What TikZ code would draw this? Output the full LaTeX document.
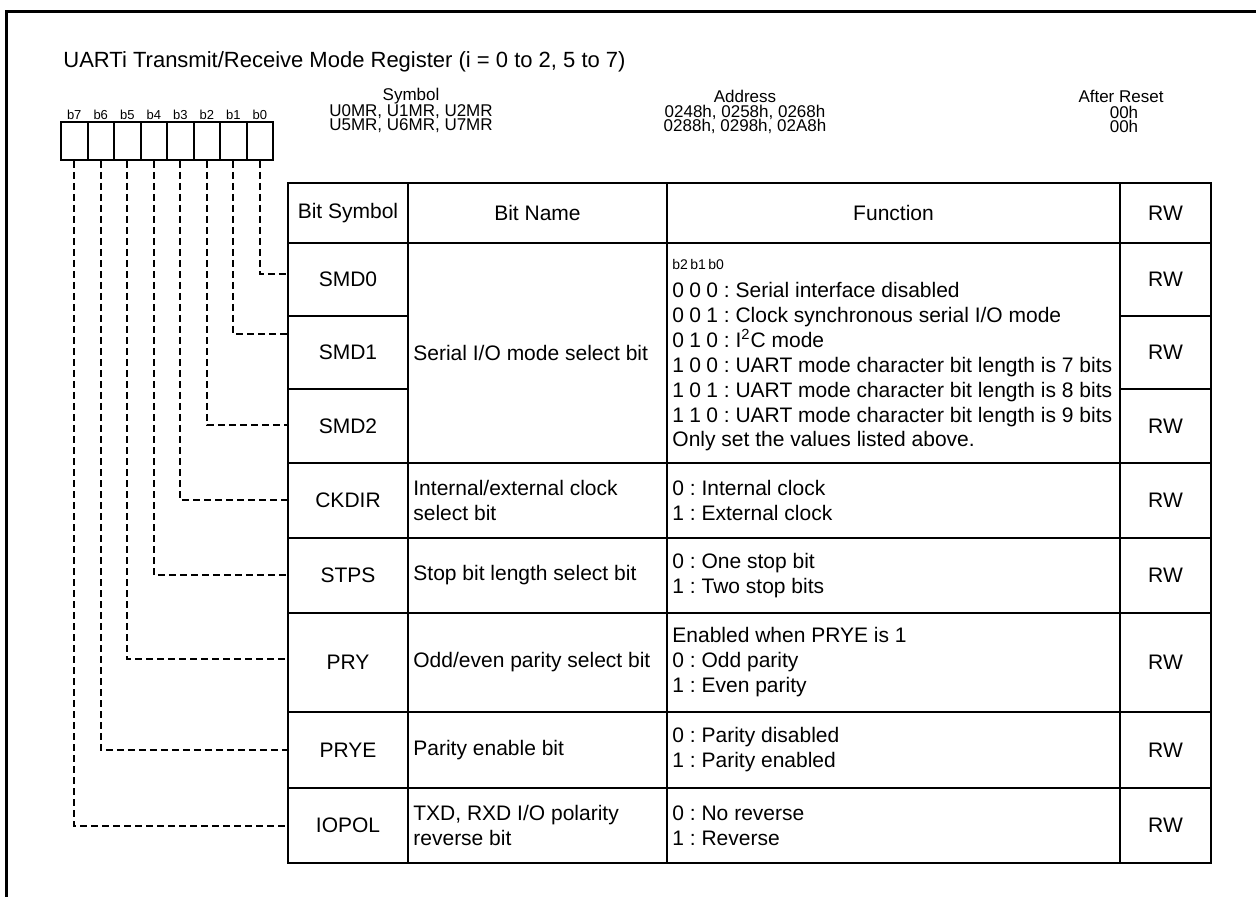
\documentclass[tikz,border=0pt]{standalone}
\usepackage{fontspec}
\setmainfont{Liberation Sans}
\frenchspacing
\begin{document}
\begin{tikzpicture}[x=0.5pt,y=-0.5pt]
\tikzset{
 tbl/.style={line width=1pt},
 conn/.style={line width=1.2pt, dash pattern=on 3.5pt off 2pt},
 txt/.style={inner sep=0pt, font=\fontsize{10.5}{12.5}\selectfont},
 hdr/.style={inner sep=0pt, font=\fontsize{8.5}{9}\selectfont},
 bitbox/.style={draw, line width=1pt, minimum width=13.25pt, minimum height=19pt, inner sep=0pt},
 bitlbl/.style={inner sep=0pt, font=\fontsize{6.5}{7}\selectfont},
 smallb/.style={inner sep=0pt, font=\fontsize{7}{8}\selectfont},
}
\newcommand{\dg}[1]{\makebox[8.5pt][l]{#1}}
\newcommand{\db}[1]{\makebox[9pt][l]{#1}}
\useasboundingbox (0,0) rectangle (1256,897);
% frame
\draw[line width=1.5pt] (6,897) -- (6,12) -- (1256,12);
% title
\node[inner sep=0pt, anchor=base west, font=\fontsize{11}{13}\selectfont] (title) at (63,68) {UARTi Transmit/Receive Mode Register (i = 0 to 2, 5 to 7)};
% bit boxes
\foreach \n [count=\i from 0] in {7,6,5,4,3,2,1,0} {
  \node[bitbox] (bit\n) at ({74.25+26.5*\i},141) {};
  \node[bitlbl] (lbl\n) at ({74.25+26.5*\i},115) {b\n};
}
% header info
\node[hdr] (symh) at (411,96) {Symbol};
\node[hdr] (sym1) at (411,112) {U0MR, U1MR, U2MR};
\node[hdr] (sym2) at (411,126) {U5MR, U6MR, U7MR};
\node[hdr] (addh) at (745,96) {Address};
\node[hdr] (add1) at (745,112) {0248h, 0258h, 0268h};
\node[hdr] (add2) at (745,126) {0288h, 0298h, 02A8h};
\node[hdr] (rsth) at (1121,96) {After Reset};
\node[hdr] (rst1) at (1124,112) {00h};
\node[hdr] (rst2) at (1124,126) {00h};
% table grid
\draw[tbl] (288,183) rectangle (1211,863);
\foreach \x in {408,667,1120} \draw[tbl] (\x,183) -- (\x,863);
\foreach \y in {243,463,538,613,712,788} \draw[tbl] (288,\y) -- (1211,\y);
\foreach \y in {316,389} {\draw[tbl] (288,\y) -- (408,\y); \draw[tbl] (1120,\y) -- (1211,\y);}
% header row
\node[txt] (hs) at (348,213) {Bit Symbol};
\node[txt] (hn) at (537.5,213) {Bit Name};
\node[txt] (hf) at (893.5,213) {Function};
\node[txt] (hr) at (1165.5,213) {RW};
% bit symbols
\node[txt] (s0) at (348,279.5) {SMD0};
\node[txt] (s1) at (348,352.5) {SMD1};
\node[txt] (s2) at (348,426) {SMD2};
\node[txt] (s3) at (348,500.5) {CKDIR};
\node[txt] (s4) at (348,575.5) {STPS};
\node[txt] (s5) at (348,662.5) {PRY};
\node[txt] (s6) at (348,750) {PRYE};
\node[txt] (s7) at (348,825.5) {IOPOL};
% RW
\foreach \y [count=\k] in {279.5,352.5,426,500.5,575.5,662.5,750,825.5}
  \node[txt] (rw\k) at (1165.5,\y) {RW};
% bit names
\node[txt, anchor=west] (n0) at (413,353) {Serial I/O mode select bit};
\node[txt, anchor=west, align=left] (n3) at (413,500.5) {Internal/external clock\\select bit};
\node[txt, anchor=west] (n4) at (413,575.5) {Stop bit length select bit};
\node[txt, anchor=west] (n5) at (413,662.5) {Odd/even parity select bit};
\node[txt, anchor=west] (n6) at (413,750) {Parity enable bit};
\node[txt, anchor=west, align=left] (n7) at (413,825.5) {TXD, RXD I/O polarity\\reverse bit};
% function SMD
\node[smallb, anchor=base west] (fb) at (672,270) {\db{b2}\db{b1}b0};
\node[txt, anchor=base west] (f1) at (672,297.5) {\dg{0}\dg{0}0 : Serial interface disabled};
\node[txt, anchor=base west] (f2) at (672,322.5) {\dg{0}\dg{0}1 : Clock synchronous serial I/O mode};
\node[txt, anchor=base west] (f3) at (672,347.5) {\dg{0}\dg{1}0 : I\textsuperscript{2}C mode};
\node[txt, anchor=base west] (f4) at (672,372.5) {\dg{1}\dg{0}0 : UART mode character bit length is 7 bits};
\node[txt, anchor=base west] (f5) at (672,397.5) {\dg{1}\dg{0}1 : UART mode character bit length is 8 bits};
\node[txt, anchor=base west] (f6) at (672,422.5) {\dg{1}\dg{1}0 : UART mode character bit length is 9 bits};
\node[txt, anchor=base west] (f7) at (672,446.5) {Only set the values listed above.};
% function others
\node[txt, anchor=west, align=left] (g3) at (672,500.5) {0 : Internal clock\\1 : External clock};
\node[txt, anchor=west, align=left] (g4) at (672,575.5) {0 : One stop bit\\1 : Two stop bits};
\node[txt, anchor=west, align=left] (g5) at (672,662.5) {Enabled when PRYE is 1\\0 : Odd parity\\1 : Even parity};
\node[txt, anchor=west, align=left] (g6) at (672,750) {0 : Parity disabled\\1 : Parity enabled};
\node[txt, anchor=west, align=left] (g7) at (672,825.5) {0 : No reverse\\1 : Reverse};
% connectors
\coordinate (c0) at (288,274);
\coordinate (c1) at (288,334);
\coordinate (c2) at (288,425);
\coordinate (c3) at (288,500);
\coordinate (c4) at (288,575);
\coordinate (c5) at (288,659);
\coordinate (c6) at (288,750);
\coordinate (c7) at (288,826);
\foreach \n in {0,...,7} \draw[conn] (bit\n.south) |- (c\n);
\end{tikzpicture}
\end{document}
